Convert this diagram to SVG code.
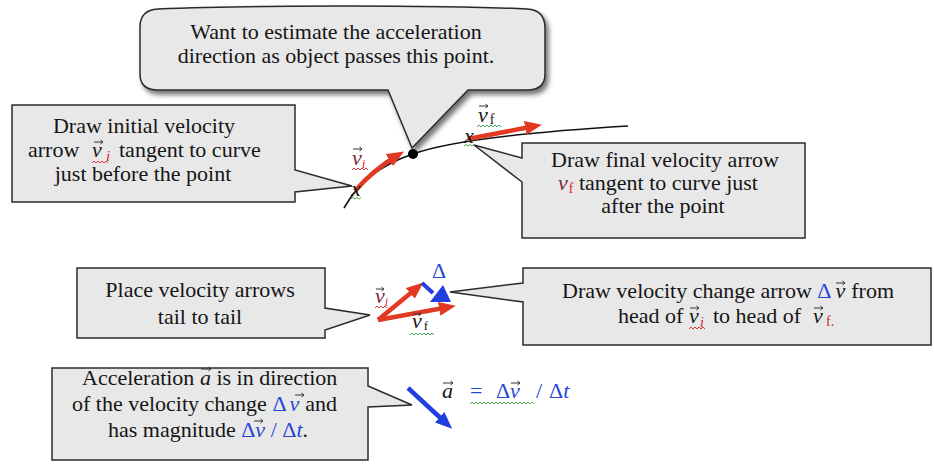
<svg xmlns="http://www.w3.org/2000/svg" width="934" height="472" viewBox="0 0 934 472">
<style>
  .box { fill: #e8e8e8; stroke: #2b2b2b; stroke-width: 1.5; stroke-linejoin: miter; }
  .txt { font-family: 'Liberation Serif', 'DejaVu Serif', serif; font-size: 22px; fill: #151515; }
  .c { text-anchor: middle; }
  .it { font-style: italic; }
  .blue { fill: #2545d6; }
  .red { fill: #d8232a; }
  .dred { fill: #7a2a3a; }
  .vec { fill: none; stroke: #333; stroke-width: 1; }
  .redarr { fill: none; stroke: #e23a22; stroke-width: 4.5; marker-end: url(#rh); }
  .bluearr { fill: none; stroke: #1f3fe0; stroke-width: 4.5; marker-end: url(#bh); }
  .sqr { fill: none; stroke: #d22; stroke-width: 0.9; }
  .sqg { fill: none; stroke: #3a9a3a; stroke-width: 0.9; }
</style>
<defs>
  <marker id="rh" markerUnits="userSpaceOnUse" markerWidth="18" markerHeight="14" refX="10" refY="7" orient="auto">
    <path d="M0,0 L17,7 L0,14 Z" fill="#e23a22"/>
  </marker>
  <marker id="bh" markerUnits="userSpaceOnUse" markerWidth="18" markerHeight="14" refX="10" refY="7" orient="auto">
    <path d="M0,0 L17,7 L0,14 Z" fill="#1f3fe0"/>
  </marker>
  <filter id="sh" x="-10%" y="-20%" width="125%" height="160%">
    <feDropShadow dx="3" dy="4" stdDeviation="2.5" flood-color="#000" flood-opacity="0.55"/>
  </filter>
</defs>

<!-- curve and markings -->
<g id="curve">
  <path d="M344,208 Q365,170 413,154 Q462,136 628,126" fill="none" stroke="#111" stroke-width="1.6"/>
  <path class="redarr" d="M355,191 Q373,170 398,155"/>
  <path class="redarr" d="M468,139 L535,126"/>
  <circle cx="413" cy="154" r="5" fill="#000"/>
  <text class="txt it" x="351" y="196" font-size="11">x</text>
  <path class="sqg" d="M351,199 l2,-1.5 l2,1.5 l2,-1.5 l2,1.5 l2,-1.5"/>
  <text class="txt it" x="464" y="143" font-size="11">x</text>
  <path class="sqg" d="M464,146 l2,-1.5 l2,1.5 l2,-1.5 l2,1.5 l2,-1.5"/>
  <text class="txt" x="352" y="165" font-size="20"><tspan class="it dred">v</tspan><tspan class="red it" font-size="13" dy="3">i</tspan></text>
  <path class="vec" d="M353,149 h9 m-2.5,-2 l2.5,2 l-2.5,2"/>
  <path class="sqr" d="M352,170 l2,-2 l2,2 l2,-2 l2,2 l2,-2 l2,2 l2,-2 l2,2"/>
  <text class="txt" x="478" y="122" font-size="20"><tspan class="it">v</tspan><tspan font-size="14" dx="2" dy="2">f</tspan></text>
  <path class="vec" d="M479,106 h9 m-2.5,-2 l2.5,2 l-2.5,2"/>
  <path class="sqg" d="M477,127 l2,-2 l2,2 l2,-2 l2,2 l2,-2 l2,2 l2,-2 l2,2 l2,-2 l2,2 l2,-2 l2,2"/>
</g>

<!-- top callout -->
<g id="callout-top">
  <path class="box" filter="url(#sh)" fill="#e3e3e3" d="M158,9 C250,5 440,5 527,9 Q545,10 545,28 L545,74 Q545,90 527,90 L468,90 L412,148 L388,90 L158,90 Q140,90 140,74 L140,27 Q140,10 158,9 Z"/>
  <text class="txt c" x="336" y="39">Want to estimate the acceleration</text>
  <text class="txt c" x="336" y="63">direction as object passes this point.</text>
</g>

<!-- box 1 -->
<g id="callout-initial">
  <path class="box" d="M12,105 H295 V170 L352,186 L295,192 V202 H12 Z"/>
  <text class="txt c" x="144" y="133" font-size="23.5">Draw initial velocity</text>
  <text class="txt" y="157" font-size="23.5"><tspan x="28">arrow</tspan><tspan x="92" class="it">v</tspan><tspan x="106" class="it red" font-size="15" dy="4">i</tspan><tspan x="119" dy="-4">tangent to curve</tspan></text>
  <path class="vec" d="M94,142 h9 m-2.5,-2 l2.5,2 l-2.5,2"/>
  <path class="sqr" d="M92,163 l2,-2 l2,2 l2,-2 l2,2 l2,-2 l2,2 l2,-2 l2,2"/>
  <text class="txt c" x="143" y="181" font-size="23.5">just before the point</text>
</g>

<!-- box 2 -->
<g id="callout-final">
  <path class="box" d="M522,143 H805 V238 H522 V182 L474,145 L522,158 Z"/>
  <text class="txt c" x="665" y="167">Draw final velocity arrow</text>
  <text class="txt" x="558" y="190"><tspan class="it dred">v</tspan><tspan class="red" font-size="14" dx="1" dy="3">f</tspan><tspan dy="-3"> tangent to curve just</tspan></text>
  <text class="txt c" x="663" y="213">after the point</text>
</g>

<!-- middle vector sketch -->
<g id="vector-sketch">
  <path class="redarr" d="M378,320 L418,287"/>
  <path class="redarr" d="M378,320 L449,307"/>
  <path d="M422,283 L433,293" stroke="#1f3fe0" stroke-width="4" fill="none"/>
  <path d="M443,285 L430,302 L451,302 Z" fill="#1f3fe0"/>
  <text class="txt blue" x="439" y="278" font-size="19" text-anchor="middle">Δ</text>
  <text class="txt" x="375" y="303" font-size="18"><tspan class="it dred">v</tspan><tspan class="red it" font-size="12" dy="3">i</tspan></text>
  <path class="vec" d="M376,289 h8 m-2.5,-2 l2.5,2 l-2.5,2"/>
  <path class="sqr" d="M375,308 l2,-2 l2,2 l2,-2 l2,2 l2,-2 l2,2"/>
  <text class="txt" x="412" y="328" font-size="18"><tspan class="it">v</tspan><tspan font-size="13" dx="2" dy="2">f</tspan></text>
  <path class="vec" d="M413,314 h8 m-2.5,-2 l2.5,2 l-2.5,2"/>
  <path class="sqg" d="M410,335 l2,-2 l2,2 l2,-2 l2,2 l2,-2 l2,2 l2,-2 l2,2 l2,-2 l2,2 l2,-2 l2,2"/>
</g>

<!-- middle left -->
<g id="callout-tail">
  <path class="box" d="M77,268 H325 V308 L370,315 L325,330 V338 H77 Z"/>
  <text class="txt c" x="200" y="297">Place velocity arrows</text>
  <text class="txt c" x="200" y="324">tail to tail</text>
</g>

<!-- middle right -->
<g id="callout-change">
  <path class="box" d="M523,268 H931 V345 H523 V302 L450,292 L523,283 Z"/>
  <text class="txt" x="562" y="298">Draw velocity change arrow <tspan class="blue">Δ</tspan><tspan class="it" dx="4">v</tspan><tspan dx="6">from</tspan></text>
  <path class="vec" d="M836,283 h9 m-2.5,-2 l2.5,2 l-2.5,2"/>
  <text class="txt" y="323"><tspan x="618">head of</tspan><tspan x="689" class="it">v</tspan><tspan x="700" class="it red" font-size="14" dy="4">i</tspan><tspan x="713" dy="-4">to head of</tspan><tspan x="813" class="it">v</tspan><tspan x="826" class="red" font-size="14" dy="3">f.</tspan></text>
  <path class="vec" d="M690,308 h9 m-2.5,-2 l2.5,2 l-2.5,2"/>
  <path class="vec" d="M814,308 h9 m-2.5,-2 l2.5,2 l-2.5,2"/>
  <path class="sqr" d="M689,329 l2,-2 l2,2 l2,-2 l2,2 l2,-2 l2,2 l2,-2 l2,2"/>
</g>

<!-- bottom -->
<g id="callout-accel">
  <path class="box" d="M52,368 H368 V386 L412,405 L368,407 V460 H52 Z"/>
  <text class="txt" x="82" y="385">Acceleration <tspan class="it">a</tspan> is in direction</text>
  <path class="vec" d="M201,369 h10 m-2.5,-2 l2.5,2 l-2.5,2"/>
  <text class="txt" x="72" y="411">of the velocity change <tspan class="blue">Δ</tspan><tspan class="it blue" dx="3">v</tspan><tspan dx="6">and</tspan></text>
  <path class="vec" d="M295,395 h9 m-2.5,-2 l2.5,2 l-2.5,2"/>
  <text class="txt" x="108" y="437">has magnitude <tspan class="blue">Δ</tspan><tspan class="it blue">v</tspan><tspan class="blue"> / Δ</tspan><tspan class="it blue">t</tspan>.</text>
  <path class="vec" d="M254,421 h9 m-2.5,-2 l2.5,2 l-2.5,2"/>
</g>

<!-- acceleration arrow and equation -->
<g id="accel">
  <path class="bluearr" d="M408,388 L447,424"/>
  <text class="txt it" x="442" y="398">a</text>
  <path class="vec" d="M443,383 h10 m-2.5,-2 l2.5,2 l-2.5,2"/>
  <text class="txt blue" y="398"><tspan x="470">=</tspan><tspan x="496">Δ</tspan><tspan x="510" class="it">v</tspan><tspan x="536">/</tspan><tspan x="549">Δ</tspan><tspan class="it">t</tspan></text>
  <path class="vec" d="M511,383 h9 m-2.5,-2 l2.5,2 l-2.5,2" stroke="#2545d6"/>
  <path class="sqg" d="M470,404 l2,-2 l2,2 l2,-2 l2,2 l2,-2 l2,2 l2,-2 l2,2 l2,-2 l2,2 l2,-2 l2,2 l2,-2 l2,2 l2,-2 l2,2 l2,-2 l2,2 l2,-2 l2,2 l2,-2 l2,2 l2,-2 l2,2 l2,-2 l2,2 l2,-2 l2,2 l2,-2 l2,2 l2,-2 l2,2"/>
</g>
</svg>
